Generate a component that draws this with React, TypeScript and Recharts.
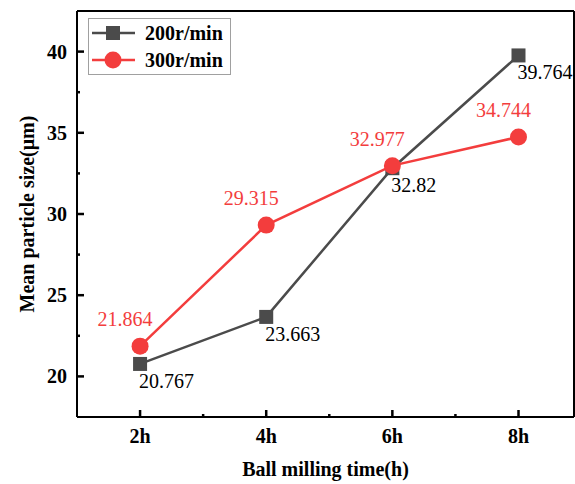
import { LineChart, Line, XAxis, YAxis, Legend, LabelList, ReferenceLine } from "recharts";

// ball milling time (h) and mean particle size (μm)
const hours = [2, 4, 6, 8];
const speed200 = [20.767, 23.663, 32.82, 39.764];
const speed300 = [21.864, 29.315, 32.977, 34.744];
const seriesNames = ["200r/min", "300r/min"];
const xTicks = [2, 3, 4, 5, 6, 7, 8];
const yTicks = [20, 22.5, 25, 27.5, 30, 32.5, 35, 37.5, 40];

const data = hours.map((h, i) => ({ h, s200: speed200[i], s300: speed300[i] }));

const GREY = "#4b4b4b";
const RED = "#f33d3d";
const FONT = "Liberation Serif";
const X_DOMAIN = [1, 8.88];
const Y_DOMAIN = [17.5, 42.5];

const isMajorX = (v: number) => v % 2 === 0;
const isMajorY = (v: number) => v % 5 === 0;

function XTick(props: any) {
  const { x, y, payload } = props;
  const major = isMajorX(payload.value);
  return (
    <g>
      <line x1={x} y1={y} x2={x} y2={y - (major ? 7 : 3)} stroke="#000" strokeWidth={2.5} />
      {major && (
        <text x={x} y={y + 26} textAnchor="middle" fontFamily={FONT} fontWeight={700} fontSize={20} fill="#000">
          {payload.value}h
        </text>
      )}
    </g>
  );
}

function YTick(props: any) {
  const { x, y, payload } = props;
  const major = isMajorY(payload.value);
  return (
    <g>
      <line x1={x} y1={y} x2={x + (major ? 7 : 3)} y2={y} stroke="#000" strokeWidth={2.5} />
      {major && (
        <text x={x - 10} y={y + 7} textAnchor="end" fontFamily={FONT} fontWeight={700} fontSize={20} fill="#000">
          {payload.value}
        </text>
      )}
    </g>
  );
}

function SquareDot(props: any) {
  const { cx, cy } = props;
  if (cx == null || cy == null) return null;
  return <rect x={cx - 7} y={cy - 7} width={14} height={14} fill={GREY} />;
}

function BelowLabel(props: any) {
  const { x, y, value } = props;
  return (
    <text x={x - 1} y={y + 24} fontFamily={FONT} fontSize={20} fill="#000">
      {value}
    </text>
  );
}

function AboveLabel(props: any) {
  const { x, y, value } = props;
  return (
    <text x={x - 15} y={y - 20} textAnchor="middle" fontFamily={FONT} fontSize={20} fill={RED}>
      {value}
    </text>
  );
}

function LegendBox() {
  const rows = [
    { name: seriesNames[0], color: GREY, square: true },
    { name: seriesNames[1], color: RED, square: false },
  ];
  return (
    <svg width={143} height={57} style={{ display: "block" }}>
      <rect x={0.5} y={0.5} width={142} height={56} fill="#fff" stroke="#a0a0a0" />
      {rows.map((r, i) => {
        const cy = 15 + i * 27;
        return (
          <g key={r.name}>
            <line x1={4} y1={cy} x2={47} y2={cy} stroke={r.color} strokeWidth={2.5} />
            {r.square ? (
              <rect x={18} y={cy - 7} width={14} height={14} fill={r.color} />
            ) : (
              <circle cx={25} cy={cy} r={8.5} fill={r.color} />
            )}
            <text x={57} y={cy + 7} fontFamily={FONT} fontWeight={700} fontSize={20} fill="#000">
              {r.name}
            </text>
          </g>
        );
      })}
    </svg>
  );
}

export default function App() {
  return (
    <div style={{ position: "absolute", left: 0, top: 0, width: 575, background: "#fff" }}>
      <LineChart width={575} height={484} data={data} margin={{ top: 11, right: 1, bottom: 0, left: 0 }}>
        <XAxis
          xAxisId="x"
          dataKey="h"
          type="number"
          domain={X_DOMAIN}
          ticks={xTicks}
          interval={0}
          height={67}
          tickSize={0}
          tickMargin={0}
          tickLine={false}
          axisLine={{ stroke: "#000", strokeWidth: 2 }}
          tick={<XTick />}
          label={{
            content: (p: any) => {
              const vb = p.viewBox;
              return (
                <text x={vb.x + vb.width / 2} y={vb.y + 59} textAnchor="middle" fontFamily={FONT} fontWeight={700} fontSize={20} fill="#000">
                  Ball milling time(h)
                </text>
              );
            },
          }}
        />
        <YAxis
          yAxisId="y"
          type="number"
          domain={Y_DOMAIN}
          ticks={yTicks}
          interval={0}
          width={77}
          tickSize={0}
          tickMargin={0}
          tickLine={false}
          axisLine={{ stroke: "#000", strokeWidth: 2 }}
          tick={<YTick />}
          label={{
            content: (p: any) => {
              const vb = p.viewBox;
              const cy = vb.y + vb.height / 2;
              return (
                <text x={34} y={cy} transform={`rotate(-90 34 ${cy})`} textAnchor="middle" fontFamily={FONT} fontWeight={700} fontSize={20} fill="#000">
                  Mean particle size(μm)
                </text>
              );
            },
          }}
        />
        {/* top and right edges of the frame */}
        <ReferenceLine xAxisId="x" yAxisId="y" y={Y_DOMAIN[1]} stroke="#000" strokeWidth={2} />
        <ReferenceLine xAxisId="x" yAxisId="y" x={X_DOMAIN[1]} stroke="#000" strokeWidth={2} />
        <Legend
          layout="vertical"
          align="center"
          verticalAlign="middle"
          content={<LegendBox />}
          wrapperStyle={{ left: 88, top: 18, width: 143, height: 57 }}
        />
        <Line
          xAxisId="x"
          yAxisId="y"
          dataKey="s200"
          name={seriesNames[0]}
          stroke={GREY}
          strokeWidth={2.5}
          dot={<SquareDot />}
          isAnimationActive={false}
        >
          <LabelList dataKey="s200" content={<BelowLabel />} />
        </Line>
        <Line
          xAxisId="x"
          yAxisId="y"
          dataKey="s300"
          name={seriesNames[1]}
          stroke={RED}
          strokeWidth={2.5}
          dot={{ r: 8.5, fill: RED, stroke: RED, strokeWidth: 0 }}
          isAnimationActive={false}
        >
          <LabelList dataKey="s300" content={<AboveLabel />} />
        </Line>
      </LineChart>
    </div>
  );
}
